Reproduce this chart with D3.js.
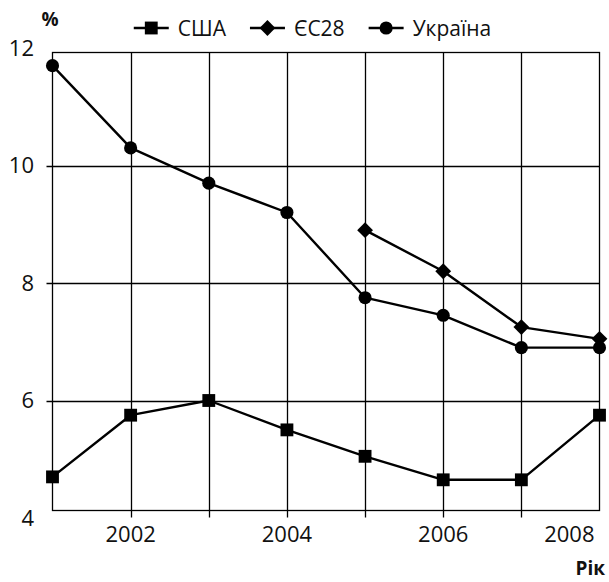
<!DOCTYPE html>
<html>
<head>
<meta charset="utf-8">
<script src="https://cdn.jsdelivr.net/npm/d3@7"></script>
<style>
  html, body { margin: 0; padding: 0; background: #fff; }
  svg { display: block; font-family: "Open Sans", "Noto Sans", sans-serif; }
</style>
</head>
<body>
<script>
// ---- data ----
const years = [2001, 2002, 2003, 2004, 2005, 2006, 2007, 2008];
const usa = [4.7, 5.75, 6.0, 5.5, 5.05, 4.65, 4.65, 5.75];
const eu28 = [null, null, null, null, 8.9, 8.2, 7.25, 7.05];
const ukraine = [11.7, 10.3, 9.7, 9.2, 7.75, 7.45, 6.9, 6.9];
const seriesNames = ["США", "ЄС28", "Україна"];
const yTicks = [4, 6, 8, 10, 12];
const xTickLabels = [2002, 2004, 2006, 2008];
const yTitle = "%";
const xTitle = "Рік";

// ---- layout ----
const W = 609, H = 582;
const frame = { left: 52.5, right: 599.5, top: 52.5, bottom: 510.5 };

const svg = d3.select("body").append("svg").attr("width", W).attr("height", H);

const x = d3.scaleLinear().domain([years[0], years[years.length - 1]]).range([frame.left, frame.right]);
const y = d3.scaleLinear().domain([4, 12]).range([518, 48]);

const ink = "#000";
const gridW = 1.3;

// horizontal grid lines (inner ticks)
const gridY = yTicks.filter(v => v > 4 && v < 12);
svg.append("g").selectAll("line").data(gridY).join("line")
  .attr("x1", frame.left - 6).attr("x2", frame.right)
  .attr("y1", d => Math.round(y(d)) + 0.5).attr("y2", d => Math.round(y(d)) + 0.5)
  .attr("stroke", ink).attr("stroke-width", gridW);

// vertical grid lines
const gridX = years.slice(1, -1);
svg.append("g").selectAll("line").data(gridX).join("line")
  .attr("x1", d => Math.round(x(d)) + 0.5).attr("x2", d => Math.round(x(d)) + 0.5)
  .attr("y1", frame.top).attr("y2", frame.bottom + 7)
  .attr("stroke", ink).attr("stroke-width", gridW);

// frame
svg.append("rect")
  .attr("x", frame.left).attr("y", frame.top)
  .attr("width", frame.right - frame.left).attr("height", frame.bottom - frame.top)
  .attr("fill", "none").attr("stroke", ink).attr("stroke-width", gridW);

// y tick labels
svg.append("g").selectAll("text").data(yTicks).join("text")
  .attr("x", 34).attr("y", d => y(d)).attr("dy", "0.36em")
  .attr("text-anchor", "end").attr("font-size", 22).attr("fill", "#111")
  .text(d => d);

// x tick labels
const xl = svg.append("g").selectAll("text").data(xTickLabels).join("text")
  .attr("x", d => x(d)).attr("y", 542)
  .attr("text-anchor", "middle").attr("font-size", 22).attr("fill", "#111")
  .text(d => d);
xl.each(function () {
  const b = this.getBBox();
  const limit = frame.right - 5;
  if (b.x + b.width > limit) {
    d3.select(this).attr("x", +d3.select(this).attr("x") - (b.x + b.width - limit));
  }
});

// axis titles
svg.append("text").attr("x", 50).attr("y", 26).attr("text-anchor", "middle")
  .attr("font-size", 19).attr("font-weight", "bold").attr("fill", "#111").text(yTitle);
svg.append("text").attr("x", 605).attr("y", 575).attr("text-anchor", "end")
  .attr("font-size", 19).attr("font-weight", "bold").attr("fill", "#111").text(xTitle);

// ---- series ----
const symSquare = d3.symbol().type(d3.symbolSquare).size(165);
const symDiamond = d3.symbol().type(d3.symbolSquare).size(125);
const symCircle = d3.symbol().type(d3.symbolCircle).size(135);

const series = [
  { name: seriesNames[0], values: usa, sym: symSquare, rot: 0 },
  { name: seriesNames[1], values: eu28, sym: symDiamond, rot: 45 },
  { name: seriesNames[2], values: ukraine, sym: symCircle, rot: 0 }
];

const line = d3.line()
  .defined(d => d.v != null)
  .x(d => x(d.year)).y(d => y(d.v));

series.forEach(s => {
  const pts = years.map((yr, i) => ({ year: yr, v: s.values[i] }));
  svg.append("path").datum(pts)
    .attr("d", line).attr("fill", "none")
    .attr("stroke", ink).attr("stroke-width", 2.4).attr("stroke-linejoin", "round");
  svg.append("g").selectAll("path").data(pts.filter(p => p.v != null)).join("path")
    .attr("d", s.sym())
    .attr("transform", p => `translate(${x(p.year)},${y(p.v)}) rotate(${s.rot})`)
    .attr("fill", ink);
});

// ---- legend ----
const legend = svg.append("g");
let cx = 0;
const legY = 28;
series.forEach((s, i) => {
  const g = legend.append("g").attr("transform", `translate(${cx},0)`);
  g.append("line").attr("x1", 0).attr("x2", 35).attr("y1", legY).attr("y2", legY)
    .attr("stroke", ink).attr("stroke-width", 2.4);
  g.append("path").attr("d", s.sym()).attr("fill", ink)
    .attr("transform", `translate(17.5,${legY}) rotate(${s.rot})`);
  const t = g.append("text").attr("x", 44).attr("y", legY).attr("dy", "0.36em")
    .attr("font-size", 21).attr("fill", "#111").text(s.name);
  cx += 44 + t.node().getComputedTextLength() + 24;
});
const lb = legend.node().getBBox();
legend.attr("transform", `translate(${312.5 - (lb.x + lb.width / 2)},0)`);
</script>
</body>
</html>
